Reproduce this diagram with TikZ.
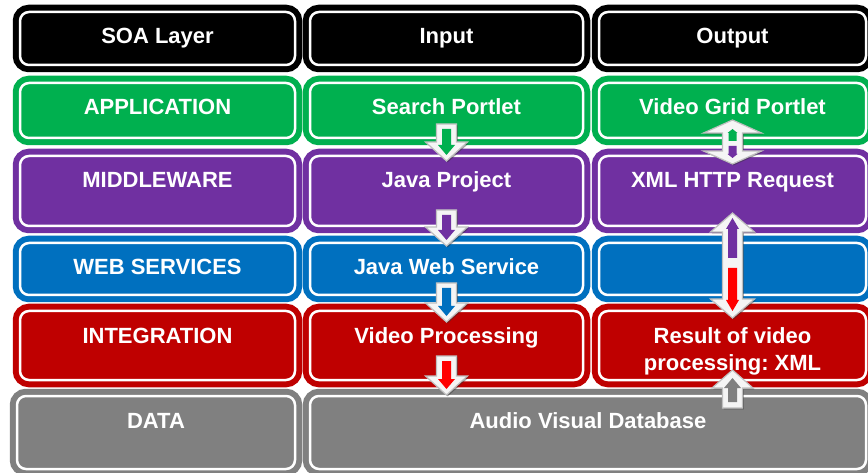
\documentclass[tikz,border=0pt]{standalone}
\usepackage{fontspec}
\setmainfont{Liberation Sans}
\frenchspacing
\usetikzlibrary{calc}
\usetikzlibrary{shadows}

% one-way block arrow from #1 to the tip #2: half shaft #3, half head #4, head length #5
\newcommand\arrowbody[5]{%
  let \p1=(#1), \p2=(#2), \n1={sign(\y2-\y1)} in
  (\x1-#3,\y1) -- (\x1-#3,\y2-\n1*#5) -- (\x1-#4,\y2-\n1*#5) -- (\x1,\y2)
  -- (\x1+#4,\y2-\n1*#5) -- (\x1+#3,\y2-\n1*#5) -- (\x1+#3,\y1) -- cycle}

% two-way block arrow between the tips #1 and #2
\newcommand\dualbody[5]{%
  let \p1=(#1), \p2=(#2), \n1={sign(\y2-\y1)} in
  (\x1,\y1) -- (\x1+#4,\y1+\n1*#5) -- (\x1+#3,\y1+\n1*#5) -- (\x1+#3,\y2-\n1*#5)
  -- (\x1+#4,\y2-\n1*#5) -- (\x1,\y2) -- (\x1-#4,\y2-\n1*#5) -- (\x1-#3,\y2-\n1*#5)
  -- (\x1-#3,\y1+\n1*#5) -- (\x1-#4,\y1+\n1*#5) -- cycle}

\begin{document}
\begin{tikzpicture}[x=1pt,y=-1pt,
    cell/.style={rectangle, rounded corners=9pt, draw=#1, fill=#1, double=white,
      double distance=2.5pt, line width=6pt, inner sep=0pt, outer sep=0pt,
      anchor=north west, align=center, text=white, text height=32pt,
      font=\bfseries\fontsize{22}{27}\selectfont},
    arrowbox/.style={draw=black!25, fill=black!4, line width=1.2pt,
      drop shadow={shadow xshift=1.3pt, shadow yshift=-1.3pt, opacity=.45, fill=black!80}},
    arrowcore/.style={fill=#1}]
	\definecolor{appgreen}{rgb}{0,0.69,0.31}
	\definecolor{midpurple}{rgb}{0.44,0.19,0.63}
	\definecolor{wsblue}{rgb}{0,0.44,0.75}
	\definecolor{intred}{rgb}{0.75,0,0}
	\definecolor{datagray}{rgb}{0.5,0.5,0.5}
	\definecolor{flowred}{rgb}{1,0,0}

	\useasboundingbox (0,0) rectangle (868,473);

	% header row
	\node[cell=black, minimum width=275pt, text depth=21pt] (soa) at (20,12) {SOA Layer};
	\node[cell=black, minimum width=273pt, text depth=21pt] (in) at (310,12) {Input};
	\node[cell=black, minimum width=267pt, text depth=21pt] (out) at (599,12) {Output};

	% layers
	\node[cell=appgreen, minimum width=275pt, text depth=23pt] (app) at (20,83) {APPLICATION};
	\node[cell=appgreen, minimum width=273pt, text depth=23pt] (sp) at (310,83) {Search Portlet};
	\node[cell=appgreen, minimum width=267pt, text depth=23pt] (vg) at (599,83) {Video Grid Portlet};

	\node[cell=midpurple, minimum width=275pt, text depth=38pt] (mid) at (20,156) {MIDDLEWARE};
	\node[cell=midpurple, minimum width=273pt, text depth=38pt] (jp) at (310,156) {Java Project};
	\node[cell=midpurple, minimum width=267pt, text depth=38pt] (xml) at (599,156) {XML HTTP Request};

	\node[cell=wsblue, minimum width=275pt, text depth=20pt] (web) at (20,243) {WEB SERVICES};
	\node[cell=wsblue, minimum width=273pt, text depth=20pt] (jws) at (310,243) {Java Web Service};
	\node[cell=wsblue, minimum width=267pt, text depth=20pt] (ws3) at (599,243) {};

	\node[cell=intred, minimum width=275pt, text depth=37pt] (integ) at (20,311) {INTEGRATION};
	\node[cell=intred, minimum width=273pt, text depth=37pt] (vp) at (310,311) {Video Processing};
	\node[cell=intred, minimum width=267pt, text height=59pt, text depth=10pt] (res) at (599,311) {Result of video\\processing: XML};

	\node[cell=datagray, minimum width=278pt, text depth=41pt] (data) at (17,396) {DATA};
	\node[cell=datagray, minimum width=556pt, text depth=41pt] (db) at (310,396) {Audio Visual Database};

	% input side: downward flow
	\coordinate (a1s) at ($(sp.south)+(0,-14)$);
	\coordinate (a1t) at ($(jp.north)+(0,5)$);
	\draw[arrowbox] \arrowbody{a1s}{a1t}{10pt}{21pt}{19pt};
	\fill[arrowcore=appgreen] \arrowbody{$(a1s)+(0,5)$}{$(a1t)+(0,-6)$}{4.5pt}{8.5pt}{10pt};

	\coordinate (a2s) at ($(jp.south)+(0,-16)$);
	\coordinate (a2t) at ($(jws.north)+(0,3)$);
	\draw[arrowbox] \arrowbody{a2s}{a2t}{10pt}{21pt}{19pt};
	\fill[arrowcore=midpurple] \arrowbody{$(a2s)+(0,5)$}{$(a2t)+(0,-6)$}{4.5pt}{8.5pt}{10pt};

	\coordinate (a3s) at ($(jws.south)+(0,-12)$);
	\coordinate (a3t) at ($(vp.north)+(0,11)$);
	\draw[arrowbox] \arrowbody{a3s}{a3t}{10pt}{21pt}{19pt};
	\fill[arrowcore=wsblue] \arrowbody{$(a3s)+(0,5)$}{$(a3t)+(0,-6)$}{4.5pt}{8.5pt}{10pt};

	\coordinate (a4s) at ($(vp.south)+(0,-24)$);
	\coordinate (a4t) at ($(vp.south |- db.north)+(0,-1)$);
	\draw[arrowbox] \arrowbody{a4s}{a4t}{10pt}{21pt}{19pt};
	\fill[arrowcore=flowred] \arrowbody{$(a4s)+(0,5)$}{$(a4t)+(0,-6)$}{4.5pt}{8.5pt}{10pt};

	% output side
	\coordinate (d1a) at ($(vg.south)+(0,-18)$);
	\coordinate (d1b) at ($(xml.north)+(0,8)$);
	\draw[arrowbox] \dualbody{d1a}{d1b}{10pt}{29pt}{13pt};
	\fill[arrowcore=appgreen] \arrowbody{$(vg.south)+(0,3)$}{$(vg.south)+(0,-9)$}{4pt}{5pt}{4pt};
	\fill[arrowcore=midpurple] \arrowbody{$(xml.north)+(0,-10)$}{$(xml.north)+(0,2)$}{4pt}{5pt}{4pt};

	\coordinate (d2a) at ($(xml.south)+(0,-13)$);
	\coordinate (d2b) at ($(res.north)+(0,7)$);
	\draw[arrowbox] \dualbody{d2a}{d2b}{10pt}{22pt}{19pt};
	\fill[arrowcore=midpurple] \arrowbody{$(xml.south)+(0,32)$}{$(xml.south)+(0,-8)$}{4.5pt}{6.5pt}{11pt};
	\fill[arrowcore=flowred] \arrowbody{$(res.north)+(0,-43)$}{$(res.north)+(0,0)$}{4.5pt}{6.5pt}{11pt};

	\coordinate (a5s) at ($(res.south |- db.north)+(0,12)$);
	\coordinate (a5t) at ($(res.south)+(0,-10)$);
	\draw[arrowbox] \arrowbody{a5s}{a5t}{10pt}{20.5pt}{18pt};
	\fill[arrowcore=datagray] \arrowbody{$(a5s)+(0,-6)$}{$(a5t)+(0,8)$}{4.5pt}{8.5pt}{10pt};
\end{tikzpicture}
\end{document}
